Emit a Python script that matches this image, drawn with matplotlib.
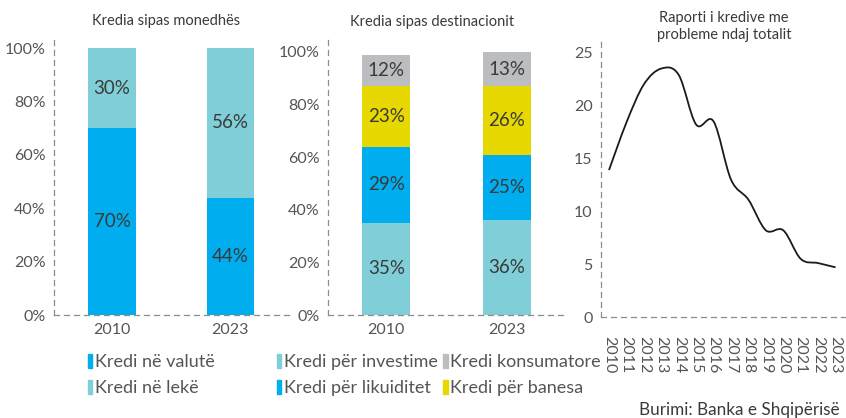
import numpy as np
import matplotlib
matplotlib.use('Agg')
import matplotlib.pyplot as plt
from matplotlib.patches import Patch, PathPatch
from matplotlib.path import Path

plt.rcParams['font.family'] = ['Lato', 'DejaVu Sans']

BLUE, TEAL, GREY, YELLOW = '#00adef', '#80cfd8', '#bcbdc0', '#e6d800'
INK, TICK, AXIS = '#3a3a3a', '#555555', '#8c8c8c'

# data
years_bar = ['2010', '2023']
valute = [70, 44]
leke = [30, 56]
investime = [35, 36]
likuiditet = [29, 25]
banesa = [23, 26]
konsumatore = [12, 13]

years = list(range(2010, 2024))
npl = [13.9, 18.4, 22.0, 23.5, 22.9, 18.2, 18.5, 13.0, 11.1, 8.2, 8.2, 5.5, 5.1, 4.7]

W, H = 846, 418
fig = plt.figure(figsize=(W / 100, H / 100), dpi=100)
ax1 = fig.add_axes([0.0638, 0.2464, 0.2825, 0.670])
ax2 = fig.add_axes([0.3877, 0.2464, 0.2825, 0.6627])
ax3 = fig.add_axes([0.7104, 0.2416, 0.2896, 0.6627])


def style(ax):
    for s in ('top', 'right'):
        ax.spines[s].set_visible(False)
    for s in ('left', 'bottom'):
        ax.spines[s].set_color(AXIS)
        ax.spines[s].set_linewidth(0.9)
        ax.spines[s].set_linestyle((0, (4, 4)))
    ax.tick_params(length=0, colors=TICK, labelsize=11.5, pad=6)


def stack(ax, series, colors):
    x = np.arange(len(years_bar))
    bottom = np.zeros(len(years_bar))
    for vals, c in zip(series, colors):
        v = np.array(vals) / 100
        ax.bar(x, v, 0.4, bottom=bottom, color=c, linewidth=0)
        for xi, b, h, lab in zip(x, bottom, v, vals):
            ax.text(xi, b + h / 2, f'{lab}%', ha='center', va='center', fontsize=13.5, color=INK)
        bottom += v
    ax.set_xticks(x, years_bar)
    ax.set_yticks(np.arange(0, 1.01, 0.2), [f'{int(t)}%' for t in np.arange(0, 101, 20)])
    style(ax)


stack(ax1, [valute, leke], [BLUE, TEAL])
ax1.set_xlim(-0.49, 1.53)
ax1.set_ylim(0, 1.049)

stack(ax2, [investime, likuiditet, banesa, konsumatore], [TEAL, BLUE, YELLOW, GREY])
ax2.set_xlim(-0.485, 1.5)
ax2.set_ylim(0, 1.053)

# smooth line through the points (Catmull-Rom as cubic Bezier)
P = np.column_stack([years, npl]).astype(float)
Pe = np.vstack([P[0], P, P[-1]])
verts = [P[0]]
codes = [Path.MOVETO]
for i in range(1, len(Pe) - 2):
    c1 = Pe[i] + (Pe[i + 1] - Pe[i - 1]) / 6
    c2 = Pe[i + 1] - (Pe[i + 2] - Pe[i]) / 6
    verts += [c1, c2, Pe[i + 1]]
    codes += [Path.CURVE4] * 3
ax3.add_patch(PathPatch(Path(verts, codes), fill=False, edgecolor='#1a1a1a', linewidth=1.3))
ax3.set_xlim(2009.54, 2023.6)
ax3.set_ylim(0, 26.2)
ax3.set_yticks(range(0, 26, 5))
ax3.set_xticks(years, [str(y) for y in years], rotation=-90)
style(ax3)
ax3.tick_params(axis='x', pad=14)

# panel titles
title_kw = dict(fontsize=10.5, color=INK, ha='center', va='center')
fig.text(166 / W, 1 - 21 / H, 'Kredia sipas monedhës', **title_kw)
fig.text(432 / W, 1 - 22 / H, 'Kredia sipas destinacionit', **title_kw)
fig.text(724 / W, 1 - 26.5 / H, 'Raporti i kredive me\nprobleme ndaj totalit', linespacing=1.3, **title_kw)

# legends
leg_kw = dict(frameon=False, fontsize=13, handlelength=0.25, handleheight=0.8,
              handletextpad=0.15, labelspacing=0.55, borderpad=0, borderaxespad=0,
              labelcolor=TICK)
h1 = [Patch(color=BLUE, label='Kredi në valutë'), Patch(color=TEAL, label='Kredi në lekë')]
fig.legend(handles=h1, loc='upper left', bbox_to_anchor=(0.104, 0.153), **leg_kw)
h2 = [Patch(color=TEAL, label='Kredi për investime'), Patch(color=BLUE, label='Kredi për likuiditet'),
      Patch(color=GREY, label='Kredi konsumatore'), Patch(color=YELLOW, label='Kredi për banesa')]
fig.legend(handles=h2, loc='upper left', bbox_to_anchor=(0.327, 0.153), ncol=2,
           columnspacing=0.3, **leg_kw)

fig.text(639 / W, 1 - 410 / H, 'Burimi: Banka e Shqipërisë', fontsize=12.3, color=INK,
         va='center', ha='left')

fig.savefig('out.png', dpi=100)
